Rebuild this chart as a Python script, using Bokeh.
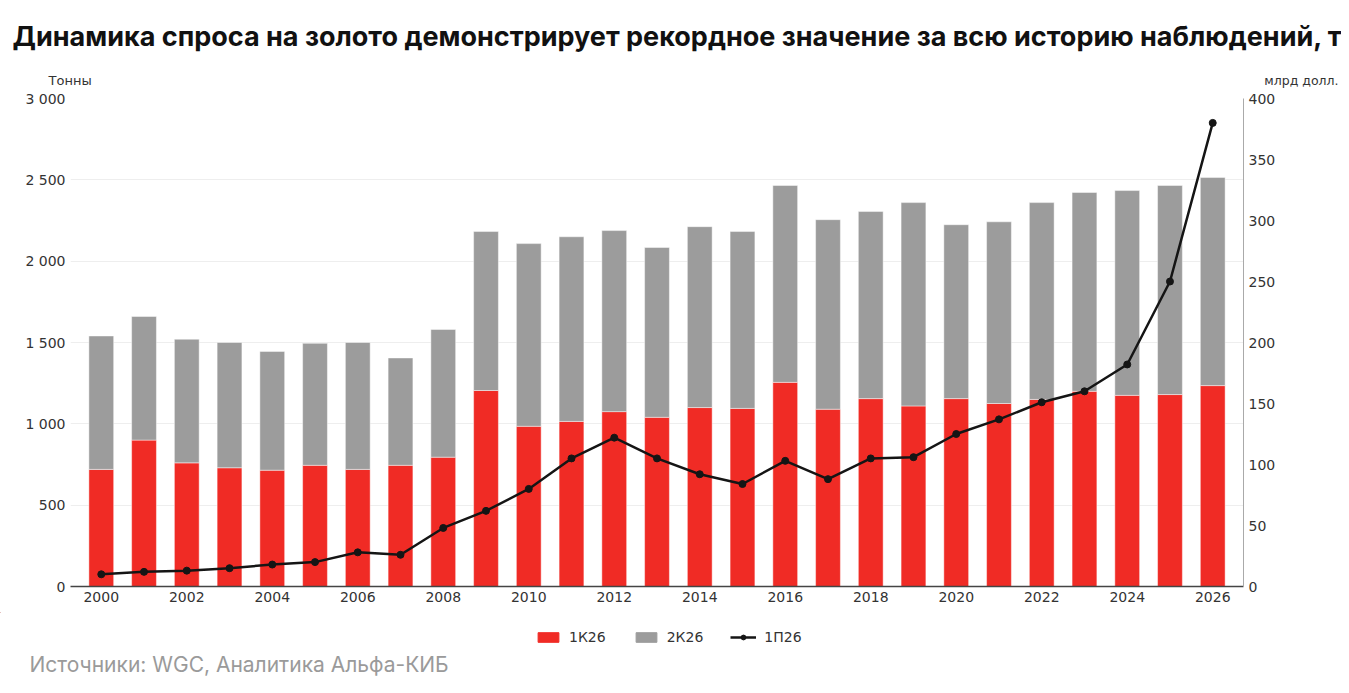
from bokeh.plotting import figure
from bokeh.models import (ColumnDataSource, Range1d, LinearAxis, FixedTicker,
                          Label, Legend)
from bokeh.layouts import column
from bokeh.embed import file_html
from bokeh.resources import INLINE

# данные
years = list(range(2000, 2027))
q1 = [720, 900, 760, 730, 715, 745, 720, 745, 795, 1205, 985, 1015, 1075, 1040,
      1100, 1095, 1255, 1090, 1155, 1110, 1155, 1125, 1150, 1200, 1175, 1180, 1235]
q2 = [820, 760, 760, 770, 730, 750, 780, 660, 785, 977, 1123, 1135, 1113, 1044,
      1112, 1087, 1210, 1165, 1150, 1250, 1069, 1117, 1210, 1222, 1259, 1285, 1279]
usd = [10, 12, 13, 15, 18, 20, 28, 26, 48, 62, 80, 105, 122, 105, 92, 84, 103,
       88, 105, 106, 125, 137, 151, 160, 182, 250, 380]

x_ticks = list(range(2000, 2027, 2))
left_ticks = [0, 500, 1000, 1500, 2000, 2500, 3000]
left_labels = ["0", "500", "1 000", "1 500", "2 000", "2 500", "3 000"]
right_ticks = [0, 50, 100, 150, 200, 250, 300, 350, 400]

source = ColumnDataSource(dict(year=years, q1=q1, q2=q2, usd=usd))

RED = "#F02B25"
GRAY = "#9C9C9C"
LINE = "#151515"
FONT = "DejaVu Sans"
W = 1341

# шапка: заголовок и подписи осей
head = figure(width=W, height=88, output_backend="svg", toolbar_location=None,
              x_range=Range1d(0, W), y_range=Range1d(88, 0),
              min_border=0, x_axis_type=None, y_axis_type=None)
head.frame_align = False
head.outline_line_color = None
head.grid.visible = False
head.add_layout(Label(x=12, y=36,
                      text="Динамика спроса на золото демонстрирует рекордное значение за всю историю наблюдений, т",
                      text_font="Inter", text_font_style="bold", text_font_size="27px",
                      text_color="#111111", text_baseline="middle"))
head.add_layout(Label(x=48, y=80, text="Тонны", text_font=FONT, text_font_size="13px",
                      text_color="#333333", text_baseline="middle"))
head.add_layout(Label(x=1338, y=80, text="млрд долл.", text_font=FONT,
                      text_font_size="12.5px", text_color="#333333",
                      text_baseline="middle", text_align="right"))

# основной график
p = figure(width=W, height=524, output_backend="svg", toolbar_location=None,
           x_range=Range1d(1999.28, 2026.72), y_range=Range1d(0, 3000),
           min_border_left=70, min_border_right=98, min_border_top=10,
           min_border_bottom=26)
p.frame_align = False
p.outline_line_color = None
p.extra_y_ranges = {"usd": Range1d(0, 400)}

p.vbar_stack(["q1", "q2"], x="year", width=0.58, color=[RED, GRAY],
             line_color="#ffffff", line_alpha=0.45, line_width=1, source=source)
p.line("year", "usd", source=source, y_range_name="usd",
       line_color=LINE, line_width=2.5)
p.scatter("year", "usd", source=source, y_range_name="usd", size=7, color=LINE)

p.xaxis.ticker = FixedTicker(ticks=x_ticks)
p.xaxis.axis_line_color = "#444444"
p.xaxis.axis_line_width = 1.5
p.xaxis.major_tick_line_color = None
p.xaxis.minor_tick_line_color = None
p.xaxis.major_tick_out = 0
p.xaxis.major_label_standoff = 5
p.xaxis.major_label_text_font = FONT
p.xaxis.major_label_text_font_size = "14px"
p.xaxis.major_label_text_color = "#333333"

p.yaxis.ticker = FixedTicker(ticks=left_ticks)
p.yaxis.major_label_overrides = dict(zip(left_ticks, left_labels))
p.yaxis.axis_line_color = None
p.yaxis.major_tick_line_color = None
p.yaxis.minor_tick_line_color = None
p.yaxis.major_tick_out = 0
p.yaxis.major_label_standoff = 5
p.yaxis.major_label_text_font = FONT
p.yaxis.major_label_text_font_size = "14px"
p.yaxis.major_label_text_color = "#333333"

ax2 = LinearAxis(y_range_name="usd", ticker=FixedTicker(ticks=right_ticks))
ax2.axis_line_color = "#aaaaaa"
ax2.major_tick_line_color = None
ax2.minor_tick_line_color = None
ax2.major_tick_out = 0
ax2.major_label_standoff = 5
ax2.major_label_text_font = FONT
ax2.major_label_text_font_size = "14px"
ax2.major_label_text_color = "#333333"
p.add_layout(ax2, "right")

p.xgrid.grid_line_color = None
p.ygrid.grid_line_color = "#eeeeee"
p.ygrid.ticker = FixedTicker(ticks=left_ticks)

# подвал: легенда и источник
foot = figure(width=W, height=81, output_backend="svg", toolbar_location=None,
              x_range=Range1d(0, W), y_range=Range1d(81, 0),
              min_border=0, x_axis_type=None, y_axis_type=None)
foot.frame_align = False
foot.outline_line_color = None
foot.grid.visible = False
# образцы для легенды, точки вне видимой области
k1 = foot.vbar(x=[-100], top=[-100], width=1, color=RED)
k2 = foot.vbar(x=[-100], top=[-100], width=1, color=GRAY)
k3 = foot.line(x=[-100, -90], y=[-100, -100], line_color=LINE, line_width=2.5)
k4 = foot.scatter(x=[-100], y=[-100], size=7, color=LINE)

legend = Legend(items=[("1К26", [k1]), ("2К26", [k2]), ("1П26", [k3, k4])],
                orientation="horizontal", location=(535, 48))
legend.border_line_color = None
legend.background_fill_alpha = 0
legend.padding = 0
legend.margin = 0
legend.label_text_font = FONT
legend.label_text_font_size = "14px"
legend.label_text_color = "#333333"
legend.glyph_width = 26
legend.glyph_height = 12
legend.label_height = 14
legend.spacing = 27
legend.label_standoff = 8
foot.add_layout(legend, "center")

foot.add_layout(Label(x=29, y=52, text="Источники: WGC, Аналитика Альфа-КИБ",
                      text_font="Inter", text_font_size="21px", text_color="#9a9a9a",
                      text_baseline="middle"))

layout = column(head, p, foot, spacing=0)
open("out.html", "w").write(file_html(layout, INLINE))
